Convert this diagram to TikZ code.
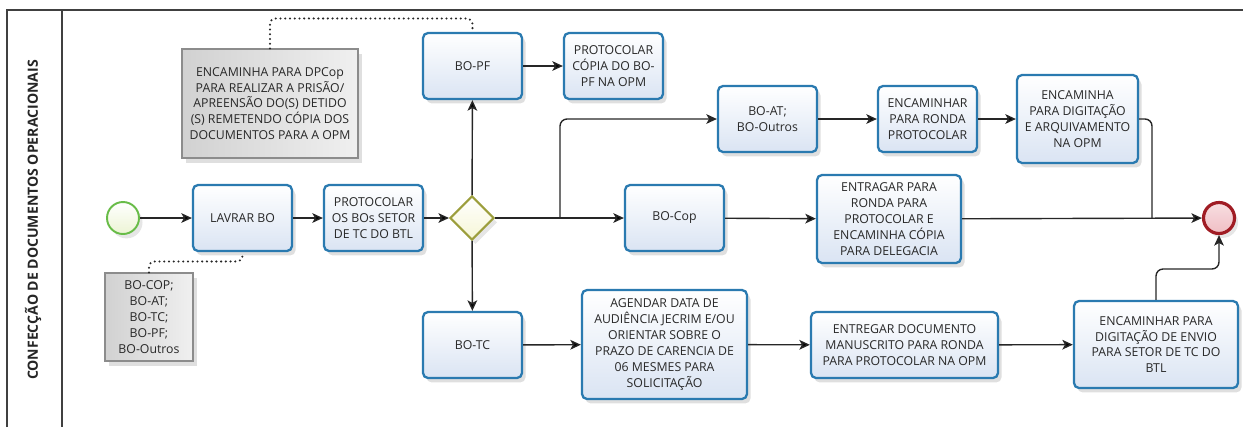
\documentclass[tikz,border=0pt]{standalone}
\usepackage{fontspec}
\setmainfont{Open Sans}
\usepackage{tikz}
\usetikzlibrary{arrows,arrows.meta,positioning,shapes.geometric,shadows}
\definecolor{taskline}{RGB}{42,122,176}
\definecolor{taskfill}{RGB}{218,228,243}
\definecolor{gateline}{RGB}{156,158,60}
\definecolor{gatefill}{RGB}{246,246,214}
\definecolor{endline}{RGB}{160,28,36}
\definecolor{endfill}{RGB}{240,190,196}
\definecolor{startline}{RGB}{104,188,72}
\definecolor{startfill}{RGB}{236,244,212}
\definecolor{txt}{RGB}{40,40,40}
\tikzset{every picture/.style={line width=0.5pt}}
\tikzstyle{task}=[draw=taskline,line width=1.3pt,rounded corners=0.1cm,top color=white,bottom color=taskfill,
  minimum width=1.98cm,minimum height=1.32cm,inner sep=0pt,align=center,text=txt,
  drop shadow={shadow xshift=2pt,shadow yshift=-2.5pt,opacity=0.25,fill=black!50}]
\tikzstyle{note}=[draw=black!45,line width=0.6pt,left color=black!18,right color=black!6,inner sep=0pt,align=center,text=txt,
  drop shadow={shadow xshift=2.5pt,shadow yshift=-3pt,opacity=0.25,fill=black!50}]
\tikzstyle{gate}=[diamond,draw=gateline,line width=1.2pt,top color=white,bottom color=gatefill,minimum size=0.88cm,inner sep=0pt,
  drop shadow={shadow xshift=2pt,shadow yshift=-2.5pt,opacity=0.2,fill=black!50}]
\tikzstyle{startev}=[circle,draw=startline,line width=1.1pt,top color=white,bottom color=startfill,minimum size=0.64cm,inner sep=0pt,
  drop shadow={shadow xshift=2pt,shadow yshift=-2.5pt,opacity=0.2,fill=black!50}]
\tikzstyle{endev}=[circle,draw=endline,line width=1.8pt,top color=endfill!50,bottom color=endfill,minimum size=0.62cm,inner sep=0pt,
  drop shadow={shadow xshift=2pt,shadow yshift=-2.5pt,opacity=0.2,fill=black!50}]
\tikzstyle{flow}=[->,>={Stealth[length=6pt,width=5.5pt,inset=1.5pt]},draw=black!85,line width=0.8pt]
\tikzstyle{assoc}=[draw=black!85,line width=1.3pt,line cap=round,dash pattern=on 0pt off 2.7pt]

\begin{document}
\begin{tikzpicture}[x=0.02cm,y=-0.02cm,font=\fontsize{7}{9}\selectfont]
\useasboundingbox (0,0) rectangle (1243,427);
% pool and lane
\draw[black!75,line width=0.7pt] (7,427) -- (7,10) -- (1243,10);
\draw[black!75,line width=0.7pt] (62,10) -- (62,427);
\node[rotate=90,font=\fontsize{8}{10}\selectfont\bfseries,text=black!85] (T) at (33,220) {CONFECÇÃO DE DOCUMENTOS OPERACIONAIS};
% events and gateway
\node[startev] (S) at (123,218) {};
\node[gate] (G) at (472,218) {};
\node[endev] (E) at (1219,218) {};
% tasks
\node[task] (L) at (242.5,218) {LAVRAR BO};
\node[task] (P) at (373.5,218) {PROTOCOLAR\\OS BOs SETOR\\DE TC DO BTL};
\node[task] (PF) at (472.5,66) {BO-PF};
\node[task] (CPF) at (613.5,66) {PROTOCOLAR\\CÓPIA DO BO-\\PF NA OPM};
\node[task] (AT) at (767.5,119) {BO-AT;\\BO-Outros};
\node[task] (RP) at (927.5,119) {ENCAMINHAR\\PARA RONDA\\PROTOCOLAR};
\node[task,minimum width=2.42cm,minimum height=1.76cm] (AR) at (1077.5,119) {ENCAMINHA\\PARA DIGITAÇÃO\\E ARQUIVAMENTO\\NA OPM};
\node[task] (COP) at (674.5,218) {BO-Cop};
\node[task,minimum width=2.88cm,minimum height=1.76cm] (ED) at (889,219) {ENTRAGAR PARA\\RONDA PARA\\PROTOCOLAR E\\ENCAMINHA CÓPIA\\PARA DELEGACIA};
\node[task] (TC) at (472.5,345) {BO-TC};
\node[task,minimum width=3.3cm,minimum height=2.18cm] (AJ) at (664.5,344.5) {AGENDAR DATA DE\\AUDIÊNCIA JECRIM E/OU\\ORIENTAR SOBRE O\\PRAZO DE CARENCIA DE\\06 MESMES PARA\\SOLICITAÇÃO};
\node[task,minimum width=3.74cm] (EM) at (904.5,345) {ENTREGAR DOCUMENTO\\MANUSCRITO PARA RONDA\\PARA PROTOCOLAR NA OPM};
\node[task,minimum width=3.28cm,minimum height=1.74cm] (ET) at (1156,344.5) {ENCAMINHAR PARA\\DIGITAÇÃO DE ENVIO\\PARA SETOR DE TC DO\\BTL};
% annotations
\node[note,minimum width=3.52cm,minimum height=2.18cm] (N1) at (270,103.5) {ENCAMINHA PARA DPCop\\PARA REALIZAR A PRISÃO/\\APREENSÃO DO(S) DETIDO\\(S) REMETENDO CÓPIA DOS\\DOCUMENTOS PARA A OPM};
\node[note,minimum width=1.76cm,minimum height=1.76cm] (N2) at (149,317) {BO-COP;\\BO-AT;\\BO-TC;\\BO-PF;\\BO-Outros};
% sequence flows
\path[flow]
(S) edge (L)
(L) edge (P)
(P) edge (G)
(G) edge (PF)
(G) edge (TC)
(G) edge (COP)
(PF) edge (CPF)
(AT) edge (RP)
(RP) edge (AR)
(COP) edge (ED)
(ED) edge (E)
(TC) edge (AJ)
(AJ) edge (EM)
(EM) edge (ET);
\coordinate (J1) at (560,218);
\coordinate (J2) at (1152,218);
\coordinate (J3) at (1219,269);
\draw[flow,rounded corners=4] (J1) |- (AT.west);
\draw[flow,-,rounded corners=4] (AR.east) -| (J2);
\draw[flow,rounded corners=4] (ET.north) |- (J3) -- (E.south);
% associations
\draw[assoc,rounded corners=3] (N1.north) -- ++(0,-30) -| (PF.north);
\draw[assoc,rounded corners=3] (N2.north) -- ++(0,-11) -| (L.south);
\end{tikzpicture}
\end{document}
